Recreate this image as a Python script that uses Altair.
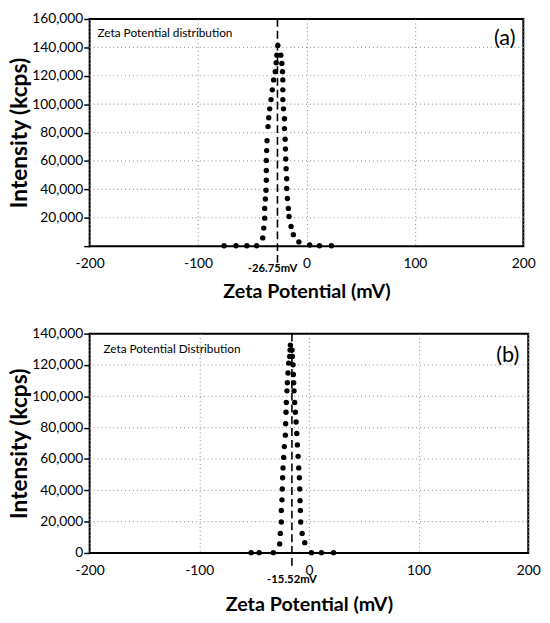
import altair as alt
import pandas as pd

# ---------------- data ----------------
# panel (a)
zeta_a = [-76, -65, -55, -46,
          -40.3, -39.4, -38.5, -38.5, -37.9, -37.3, -37.0, -37.0, -37.0, -36.7, -36.4,
          -35.5, -34.8, -33.9, -32.7, -31.5, -30.3, -28.8, -27.9, -27.3, -26.4,
          -23.6, -22.7, -22.1, -21.8, -21.8, -21.8, -21.2, -20.3, -20.3, -19.7, -19.4,
          -19.1, -18.8, -18.2, -18.2, -17.6, -16.7, -16.1, -14.2, -12.1,
          -7, 3, 12, 23]
intensity_a = [300, 300, 300, 300,
               5800, 12700, 19700, 26600, 33200, 39400, 46400, 53300, 60300, 67300, 74200,
               84200, 90400, 96700, 103200, 110100, 117100, 122900, 129200, 134500, 141400,
               134500, 128700, 122900, 117100, 110100, 103200, 96700, 89700, 82800, 75300, 68400,
               61400, 54500, 47500, 40600, 33600, 26600, 20900, 13900, 8100,
               3000, 800, 300, 300]

# panel (b)
zeta_b = [-52.6, -45.3, -32.5,
          -26.7, -26.1, -25.2, -25.2, -24.6, -24.3, -24.0, -23.6, -23.0, -22.4, -21.5,
          -21.2, -20.9, -20.6, -20.0, -19.7, -19.1, -18.5, -17.5, -17.2, -16.9,
          -15.4, -15.1, -14.5, -14.2, -13.9, -13.6, -13.0, -12.4, -11.7, -11.1, -10.5,
          -9.9, -9.3, -8.7, -8.4, -8.1, -7.8, -7.5, -6.2, -3.8,
          2.3, 11.4, 22.4]
intensity_b = [200, 200, 200,
               5800, 12500, 19800, 27100, 33900, 40800, 48000, 54300, 61000, 67900, 75200,
               82500, 89800, 96100, 103500, 108700, 114900, 121200, 125400, 129500, 132700,
               129500, 125400, 120200, 113900, 108700, 103500, 96100, 89800, 83600, 76300, 69000,
               61700, 54300, 48000, 40800, 33400, 27100, 19800, 12500, 6600,
               200, 200, 200]

peak_a = [-26.75]
peak_a_label = ["-26.75mV"]
peak_b = [-15.52]
peak_b_label = ["-15.52mV"]

x_ticks = [-200, -100, 0, 100, 200]
y_ticks_a = [0, 20000, 40000, 60000, 80000, 100000, 120000, 140000, 160000]
y_ticks_b = [0, 20000, 40000, 60000, 80000, 100000, 120000, 140000]

info_a = ["Zeta Potential distribution"]
info_b = ["Zeta Potential Distribution"]
tag_a = ["(a)"]
tag_b = ["(b)"]

X_TITLE = "Zeta Potential (mV)"
Y_TITLE = "Intensity (kcps)"


def panel(zeta, inten, peak, peak_label, y_ticks, info, tag, w, h,
          hide_zero, rule_ext, label_y, label_off, x_title_pad, info_pos, tag_pos):
    df = pd.DataFrame({"zeta": zeta, "intensity": inten})
    pk = pd.DataFrame({"pz": peak, "label": peak_label})
    tx = pd.DataFrame({"info": info, "tag": tag})
    gy = pd.DataFrame({"gv": y_ticks[1:-1],
                       "ga": [x_ticks[0]] * (len(y_ticks) - 2),
                       "gb": [x_ticks[-1]] * (len(y_ticks) - 2)})

    xscale = alt.Scale(domain=[x_ticks[0], x_ticks[-1]], nice=False)
    yscale = alt.Scale(domain=[y_ticks[0], y_ticks[-1]], nice=False)

    xaxis = alt.Axis(values=x_ticks, title=X_TITLE, labelFlush=False,
                     labelExpr="'' + datum.value",
                     tickSize=0, labelPadding=11, titlePadding=x_title_pad,
                     titleFontSize=20, grid=True)
    yaxis = alt.Axis(values=y_ticks, title=Y_TITLE, format=",.0f",
                     labelExpr=("datum.value == 0 ? '' : datum.label") if hide_zero else "datum.label",
                     labelOverlap=False,
                     tickSize=6, tickColor="black", tickWidth=1.5,
                     labelPadding=1, titlePadding=0,
                     titleFontSize=23, grid=False)

    def X(f):
        return alt.X(f, type="quantitative", scale=xscale, axis=xaxis)

    def Y(f):
        return alt.Y(f, type="quantitative", scale=yscale, axis=yaxis)

    pts = alt.Chart(df).mark_circle(size=30, color="black", opacity=1).encode(
        x=X("zeta"), y=Y("intensity"))
    grid = alt.Chart(gy).mark_rule(color="#9a9a9a", strokeDash=[1, 3], strokeWidth=1.2).encode(
        y=Y("gv"), x=X("ga"), x2=alt.X2("gb"))
    rule = alt.Chart(pk).mark_rule(color="black", strokeDash=[8, 4], strokeWidth=1.6).encode(
        x=X("pz"), y=alt.value(0), y2=alt.value(h + rule_ext))
    plab = alt.Chart(pk).mark_text(font="Lato", fontSize=11.5, fontWeight="bold",
                                   color="black", baseline="middle", dx=label_off).encode(
        x=X("pz"), y=alt.value(h + label_y), text="label:N")
    itext = alt.Chart(tx).mark_text(font="Lato", fontSize=12, color="black",
                                    align="left", baseline="middle").encode(
        x=alt.value(info_pos[0]), y=alt.value(info_pos[1]), text="info:N")
    ttext = alt.Chart(tx).mark_text(font="Lato", fontSize=22, color="black",
                                    align="right", baseline="middle").encode(
        x=alt.value(w - tag_pos[0]), y=alt.value(tag_pos[1]), text="tag:N")

    return alt.layer(grid, pts, rule, plab, itext, ttext).properties(width=w, height=h)


top = panel(zeta_a, intensity_a, peak_a, peak_a_label, y_ticks_a, info_a, tag_a,
            441, 231, True, 17, 23, -5, 11, (8, 14), (8, 19))
bottom = panel(zeta_b, intensity_b, peak_b, peak_b_label, y_ticks_b, info_b, tag_b,
               446, 223, False, 15, 28, 0, 17, (14, 16), (9, 22))

chart = alt.vconcat(top, bottom, spacing=24).properties(
    padding={"left": 0, "top": -2, "right": 0, "bottom": 0}
).configure(font="Lato").configure_view(
    stroke="black", strokeWidth=2
).configure_axis(
    labelFont="Lato", labelFontSize=14, labelColor="black",
    titleFont="Lato", titleFontWeight="bold", titleColor="black",
    domain=False, gridColor="#9a9a9a", gridDash=[1, 3], gridWidth=1.2,
)

chart.save("out.html", embed_options={"renderer": "svg", "actions": False})
